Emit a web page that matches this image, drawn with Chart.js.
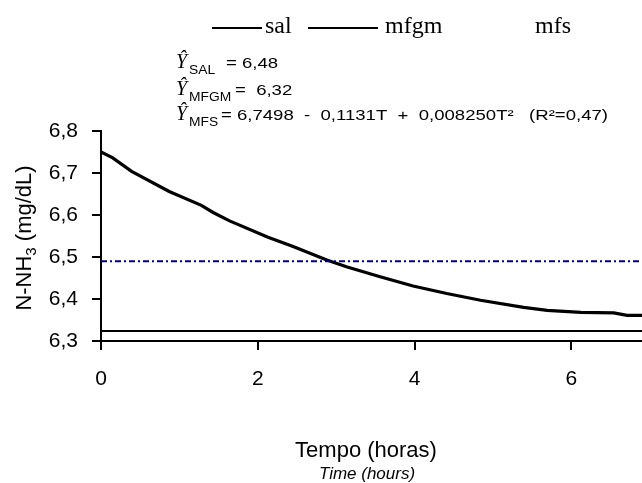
<!DOCTYPE html>
<html lang="pt-br">
<head>
  <meta charset="UTF-8" />
  <title>N-NH3 - Tempo</title>
  <script src="https://cdn.jsdelivr.net/npm/chart.js"></script>
  <style>
    html, body { margin: 0; padding: 0; background: #fff; }
    .chart-container { position: relative; width: 642px; height: 483px; }
  </style>
</head>
<body>
  <div class="chart-container"><canvas id="nh3Chart"></canvas></div>

  <script>
    // dados
    const horas = [0, 0.15, 0.39, 0.87, 1.28, 1.43, 1.64, 2.13, 2.45, 2.88, 3.13, 3.56, 3.98, 4.41, 4.84, 5.39, 5.69, 6.12, 6.54, 6.71, 6.9];
    const mfs = [6.75, 6.736, 6.704, 6.656, 6.623, 6.606, 6.586, 6.547, 6.525, 6.493, 6.477, 6.453, 6.431, 6.413, 6.397, 6.38, 6.373, 6.368, 6.367, 6.361, 6.361];
    const salNivel = 6.49;
    const mfgmNivel = 6.324;
    const xInicio = 0, xFim = 6.9;
    const yMin = 6.3, yMax = 6.8, yPasso = 0.1;
    const xPasso = 2;
    const legendas = ['sal', 'mfgm', 'mfs'];
    const equacoes = [
      { sub: 'SAL', texto: '= 6,48' },
      { sub: 'MFGM', texto: '=  6,32' },
      { sub: 'MFS', texto: '= 6,7498  -  0,1131T  +  0,008250T²   (R²=0,47)' }
    ];

    const sans = "'Liberation Sans', Arial, sans-serif";
    const serif = "'Liberation Serif', 'Times New Roman', serif";

    const textos = {
      id: 'textos',
      afterDraw(chart) {
        const ctx = chart.ctx, area = chart.chartArea;
        ctx.save();
        ctx.fillStyle = '#000';
        ctx.strokeStyle = '#000';

        // legenda
        ctx.lineWidth = 2;
        ctx.beginPath();
        ctx.moveTo(212, 28); ctx.lineTo(262, 28);
        ctx.moveTo(308, 28); ctx.lineTo(378, 28);
        ctx.stroke();
        ctx.font = '24px ' + serif;
        ctx.textBaseline = 'alphabetic';
        ctx.textAlign = 'left';
        ctx.fillText(legendas[0], 265, 33);
        ctx.fillText(legendas[1], 385, 33);
        ctx.fillText(legendas[2], 535, 33);

        // equações
        ctx.font = '15px ' + sans;
        const sx = (608 - 221) / ctx.measureText(equacoes[2].texto).width;
        const bases = [68, 94.5, 120];
        const xsTexto = [226, 235, 221];
        equacoes.forEach((eq, i) => {
          const b = bases[i];
          ctx.font = 'italic 20px ' + serif;
          ctx.fillText('Ŷ', 176, b);
          ctx.save();
          ctx.translate(189, b + 6);
          ctx.scale(1.15, 1);
          ctx.font = '12px ' + sans;
          ctx.fillText(eq.sub, 0, 0);
          ctx.restore();
          ctx.save();
          ctx.translate(xsTexto[i], b);
          ctx.scale(sx, 1);
          ctx.font = '15px ' + sans;
          ctx.fillText(eq.texto, 0, 0);
          ctx.restore();
        });

        // título do eixo y
        ctx.save();
        ctx.translate(31, 238);
        ctx.rotate(-Math.PI / 2);
        ctx.font = '22px ' + sans;
        const p1 = 'N-NH', p3 = ' (mg/dL)';
        ctx.font = '22px ' + sans;
        const w1 = ctx.measureText(p1).width, w3 = ctx.measureText(p3).width;
        ctx.font = '15px ' + sans;
        const w2 = ctx.measureText('3').width;
        let x = -(w1 + w2 + w3) / 2;
        ctx.font = '22px ' + sans;
        ctx.fillText(p1, x, 0); x += w1;
        ctx.font = '15px ' + sans;
        ctx.fillText('3', x, 5); x += w2;
        ctx.font = '22px ' + sans;
        ctx.fillText(p3, x, 0);
        ctx.restore();

        // título do eixo x
        ctx.textAlign = 'center';
        ctx.font = '22px ' + sans;
        ctx.fillText('Tempo (horas)', 366, 457);
        ctx.font = 'italic 17px ' + sans;
        ctx.fillText('Time (hours)', 367, 479);
        ctx.restore();
      }
    };

    new Chart(document.getElementById('nh3Chart'), {
      type: 'line',
      data: {
        datasets: [
          {
            label: 'sal',
            data: [{ x: xInicio, y: salNivel }, { x: xFim, y: salNivel }],
            borderColor: '#000080',
            borderWidth: 2,
            borderDash: [6, 3, 2, 3],
            pointRadius: 0
          },
          {
            label: 'mfgm',
            data: [{ x: xInicio, y: mfgmNivel }, { x: xFim, y: mfgmNivel }],
            borderColor: '#000',
            borderWidth: 2,
            pointRadius: 0
          },
          {
            label: 'mfs',
            data: horas.map((h, i) => ({ x: h, y: mfs[i] })),
            borderColor: '#000',
            borderWidth: 3.2,
            pointRadius: 0,
            tension: 0
          }
        ]
      },
      plugins: [textos],
      options: {
        responsive: true,
        maintainAspectRatio: false,
        animation: false,
        layout: { padding: { top: 131, right: 0, bottom: 0, left: 0 } },
        scales: {
          x: {
            type: 'linear',
            min: xInicio,
            max: xFim,
            afterFit: s => { s.height = 142; },
            border: { color: '#000', width: 2 },
            grid: { drawOnChartArea: false, color: '#000', lineWidth: 2, tickLength: 9 },
            ticks: { stepSize: xPasso, includeBounds: false, color: '#000', padding: 17, font: { family: sans, size: 21 } }
          },
          y: {
            min: yMin,
            max: yMax,
            afterFit: s => { s.width = 101; },
            border: { color: '#000', width: 2 },
            grid: { drawOnChartArea: false, color: '#000', lineWidth: 2, tickLength: 9 },
            ticks: {
              stepSize: yPasso,
              color: '#000',
              padding: 14,
              font: { family: sans, size: 21 },
              callback: v => v.toFixed(1).replace('.', ',')
            }
          }
        },
        plugins: {
          legend: { display: false },
          tooltip: { enabled: false }
        }
      }
    });
  </script>
</body>
</html>
